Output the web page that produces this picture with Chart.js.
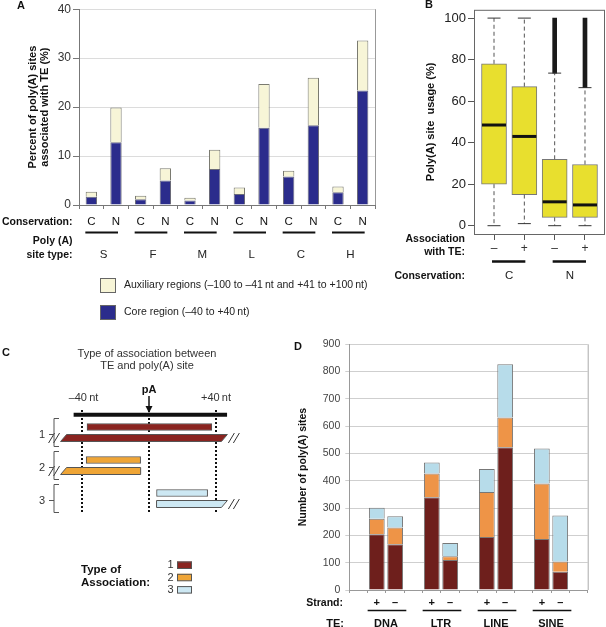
<!DOCTYPE html>
<html>
<head>
<meta charset="utf-8">
<script src="https://cdn.jsdelivr.net/npm/chart.js@4"></script>
<style>
  body { margin: 0; background: #fff; }
  #wrap { position: relative; width: 606px; height: 627px; overflow: hidden; }
  canvas { position: absolute; }
</style>
</head>
<body>
<div id="wrap">
  <canvas id="chartA" width="380" height="320" style="left:0;top:0"></canvas>
  <canvas id="chartB" width="226" height="300" style="left:380px;top:0"></canvas>
  <canvas id="chartC" width="290" height="307" style="left:0;top:320px"></canvas>
  <canvas id="chartD" width="316" height="307" style="left:290px;top:320px"></canvas>
</div>
<script>
const FONT = '"Liberation Sans", Arial, Helvetica, sans-serif';

// --- panel A: % of poly(A) sites associated with TE
const siteTypes = ['S', 'F', 'M', 'L', 'C', 'H'];
const conservation = ['C', 'N'];
const coreRegion = [1.7, 12.8, 1.2, 5.0, 0.9, 7.35, 2.25, 15.8, 5.8, 16.3, 2.6, 23.4];
const auxRegion = [1.0, 7.1, 0.7, 2.5, 0.6, 3.95, 1.35, 8.9, 1.2, 9.7, 1.2, 10.2];
const aTicks = [0, 10, 20, 30, 40];

// --- panel B: poly(A) site usage boxplots
const teAssoc = ['–', '+', '–', '+'];
const consGroups = ['C', 'N'];
const boxLow = [0, 1, 0, 0];
const boxQ1 = [20, 15, 4, 4];
const boxMedian = [48.5, 43, 11.5, 10];
const boxQ3 = [78, 67, 32, 29.5];
const boxHigh = [100, 100, 73.5, 66.5];
const outlierMax = [null, null, 100, 100];
const bTicks = [0, 20, 40, 60, 80, 100];

// --- panel C: association type diagram (positions in nt)
const assocTypes = ['1', '2', '3'];
const cRowType = [1, 1, 0, 2, 2, 0, 3, 3];
const cFrom = [-37, -51, null, -37.5, -51, null, 4.5, 4.5];
const cTo = [37.5, 45, null, -5, -5, null, 35, 45];
const cBreakLeft = [false, true, false, false, true, false, false, false];
const cBreakRight = [false, true, false, false, false, false, false, true];
const cMarks = [-40, 0, 40];

// --- panel D: number of poly(A) sites per TE class and strand
const teClasses = ['DNA', 'LTR', 'LINE', 'SINE'];
const strands = ['+', '–'];
const assocType1 = [204, 168, 340, 110, 194, 523, 187, 67];
const assocType2 = [57, 61, 87, 14, 165, 109, 203, 37];
const assocType3 = [40, 41, 40, 48, 84, 195, 128, 169];

const typeColors = ['#8A2420', '#EFA536', '#CDE8F3'];
const dColors = ['#6E1F1C', '#EE9447', '#B7DCEA'];

function drawText(ctx, str, x, y, font, align, color, rot) {
    ctx.save();
    ctx.font = font;
    ctx.fillStyle = color || '#111';
    ctx.textAlign = align || 'center';
    ctx.textBaseline = 'middle';
    ctx.translate(x, y);
    if (rot) ctx.rotate(rot);
    ctx.fillText(str, 0, 0);
    ctx.restore();
}

function drawLine(ctx, x1, y1, x2, y2, color, width, dash) {
    ctx.save();
    ctx.strokeStyle = color;
    ctx.lineWidth = width;
    ctx.setLineDash(dash || []);
    ctx.beginPath();
    ctx.moveTo(x1, y1);
    ctx.lineTo(x2, y2);
    ctx.stroke();
    ctx.restore();
}

const noPlugins = { legend: { display: false }, tooltip: { enabled: false } };

// ================= A =================
const panelA = {
    id: 'panelA',
    afterDraw(chart) {
        const { ctx, chartArea: ca, scales: { x } } = chart;
        drawLine(ctx, ca.right + 0.5, ca.top, ca.right + 0.5, ca.bottom, '#999', 1);
        drawText(ctx, 'A', 21, 6, 'bold 11px ' + FONT);
        const mid = (ca.top + ca.bottom) / 2;
        drawText(ctx, 'Percent of poly(A) sites', 33, mid, 'bold 11px ' + FONT, 'center', '#111', -Math.PI / 2);
        drawText(ctx, 'associated with TE (%)', 45, mid, 'bold 11px ' + FONT, 'center', '#111', -Math.PI / 2);
        drawText(ctx, 'Conservation:', 72.5, 222, 'bold 10.5px ' + FONT, 'right');
        drawText(ctx, 'Poly (A)', 72.5, 241.5, 'bold 10.5px ' + FONT, 'right');
        drawText(ctx, 'site type:', 72.5, 255, 'bold 10.5px ' + FONT, 'right');
        siteTypes.forEach((t, g) => {
            const xc = x.getPixelForValue(2 * g);
            const xn = x.getPixelForValue(2 * g + 1);
            drawLine(ctx, xc - 6, 232.5, xn + 2, 232.5, '#111', 2);
            drawText(ctx, t, (xc + xn) / 2, 255, '11.5px ' + FONT, 'center', '#222');
        });
        // legend
        const ds = chart.data.datasets;
        [[ds[1], 278], [ds[0], 305]].forEach(([d, y]) => {
            ctx.fillStyle = d.backgroundColor;
            ctx.fillRect(100, y, 16, 15);
            ctx.strokeStyle = '#666';
            ctx.lineWidth = 1;
            ctx.strokeRect(100.5, y + 0.5, 15, 14);
            drawText(ctx, d.label, 124, y + 7.5, '10.5px ' + FONT, 'left', '#222');
        });
    }
};

new Chart(document.getElementById('chartA'), {
    type: 'bar',
    data: {
        labels: siteTypes.flatMap(() => conservation),
        datasets: [
            { label: 'Core region (–40 to +40\u2009nt)', data: coreRegion, backgroundColor: '#2B2C8C', borderColor: '#6a6a78', borderWidth: 1 },
            { label: 'Auxiliary regions (–100 to –41\u2009nt and +41 to +100\u2009nt)', data: auxRegion, backgroundColor: '#F7F5D7', borderColor: '#7a7a70', borderWidth: 1 }
        ]
    },
    options: {
        responsive: false,
        animation: false,
        layout: { padding: { left: 0, right: 5, top: 4, bottom: 0 } },
        plugins: noPlugins,
        datasets: { bar: { barPercentage: 0.46, categoryPercentage: 1 } },
        scales: {
            x: {
                stacked: true,
                afterFit: s => { s.height = 115; },
                grid: { drawOnChartArea: false, offset: true, tickLength: 4, tickColor: '#777' },
                border: { color: '#777' },
                ticks: { autoSkip: false, maxRotation: 0, minRotation: 0, padding: 6, color: '#111', font: { family: FONT, size: 11.5 } }
            },
            y: {
                stacked: true, min: 0, max: 40,
                afterFit: s => { s.width = 79; },
                afterBuildTicks: s => { s.ticks = aTicks.map(v => ({ value: v })); },
                grid: { color: '#dcdcdc', tickLength: 6, tickColor: '#777' },
                border: { color: '#777' },
                ticks: { padding: 2, color: '#333', font: { family: FONT, size: 12 } }
            }
        }
    },
    plugins: [panelA]
});

// ================= B =================
const panelB = {
    id: 'panelB',
    afterDatasetsDraw(chart) {
        const { ctx, scales: { x, y } } = chart;
        boxQ1.forEach((q1, i) => {
            const cx = x.getPixelForValue(i + 1);
            drawLine(ctx, cx, y.getPixelForValue(boxQ3[i]), cx, y.getPixelForValue(boxHigh[i]), '#555', 1, [4, 3]);
            drawLine(ctx, cx, y.getPixelForValue(q1), cx, y.getPixelForValue(boxLow[i]), '#555', 1, [4, 3]);
            drawLine(ctx, cx - 6.5, y.getPixelForValue(boxHigh[i]), cx + 6.5, y.getPixelForValue(boxHigh[i]), '#333', 1);
            drawLine(ctx, cx - 6.5, y.getPixelForValue(boxLow[i]), cx + 6.5, y.getPixelForValue(boxLow[i]), '#333', 1);
            drawLine(ctx, cx - 12, y.getPixelForValue(boxMedian[i]), cx + 12, y.getPixelForValue(boxMedian[i]), '#111', 3);
        });
    },
    afterDraw(chart) {
        const { ctx, chartArea: ca, scales: { x } } = chart;
        ctx.strokeStyle = '#666';
        ctx.lineWidth = 1;
        ctx.strokeRect(ca.left + 0.5, ca.top + 0.5, ca.right - ca.left - 1, ca.bottom - ca.top);
        drawText(ctx, 'B', 49, 5, 'bold 11px ' + FONT);
        drawText(ctx, 'Poly(A) site  usage (%)', 51, (ca.top + ca.bottom) / 2, 'bold 11px ' + FONT, 'center', '#111', -Math.PI / 2);
        drawText(ctx, 'Association', 85, 239, 'bold 10.5px ' + FONT, 'right');
        drawText(ctx, 'with TE:', 85, 252, 'bold 10.5px ' + FONT, 'right');
        drawText(ctx, 'Conservation:', 85, 276, 'bold 10.5px ' + FONT, 'right');
        consGroups.forEach((g, k) => {
            const x1 = x.getPixelForValue(2 * k + 1);
            const x2 = x.getPixelForValue(2 * k + 2);
            drawLine(ctx, x1 - 2, 261.5, x2 + 1, 261.5, '#111', 2.5);
            drawText(ctx, g, (x1 + x2) / 2, 276, '11.5px ' + FONT, 'center', '#222');
        });
    }
};

new Chart(document.getElementById('chartB'), {
    type: 'bar',
    data: {
        datasets: [
            {
                data: boxQ1.map((q, i) => ({ x: i + 1, y: [q, boxQ3[i]] })),
                backgroundColor: '#E8DF2E', borderColor: '#777', borderWidth: 1, borderSkipped: false,
                barThickness: 25, grouped: false
            },
            {
                data: outlierMax.map((m, i) => m === null ? null : ({ x: i + 1, y: [boxHigh[i], m] })).filter(Boolean),
                backgroundColor: '#1a1a1a', borderWidth: 0, barThickness: 4, grouped: false
            }
        ]
    },
    options: {
        responsive: false,
        animation: false,
        layout: { padding: { left: 0, right: 1, top: 8, bottom: 0 } },
        plugins: noPlugins,
        scales: {
            x: {
                type: 'linear', min: 0.34, max: 4.66, offset: false,
                afterFit: s => { s.height = 66; },
                afterBuildTicks: s => { s.ticks = teAssoc.map((_, i) => ({ value: i + 1 })); },
                grid: { drawOnChartArea: false, offset: false, tickLength: 6, tickColor: '#555' },
                border: { display: false },
                ticks: { padding: 1, color: '#333', font: { family: FONT, size: 12 }, callback: (v, i) => teAssoc[i] }
            },
            y: {
                min: -4, max: 104,
                afterFit: s => { s.width = 94; },
                afterBuildTicks: s => { s.ticks = bTicks.map(v => ({ value: v })); },
                grid: { drawOnChartArea: false, tickLength: 6, tickColor: '#555' },
                border: { display: false },
                ticks: { padding: 2, color: '#222', font: { family: FONT, size: 13 } }
            }
        }
    },
    plugins: [panelB]
});

// ================= C =================
const panelC = {
    id: 'panelC',
    beforeDatasetsDraw(chart) {
        const { ctx, scales: { x } } = chart;
        cMarks.forEach(m => {
            const px = x.getPixelForValue(m);
            drawLine(ctx, px, 90, px, 194, '#111', 2, [2, 2]);
        });
    },
    afterDatasetsDraw(chart) {
        const { ctx } = chart;
        const meta = chart.getDatasetMeta(0);
        meta.data.forEach((el, i) => {
            if (!(cBreakLeft[i] || cBreakRight[i])) return;
            const p = el.getProps(['x', 'y', 'base', 'height'], true);
            const l = Math.min(p.x, p.base), r = Math.max(p.x, p.base);
            const t = p.y - p.height / 2, b = p.y + p.height / 2;
            const sl = cBreakLeft[i] ? 3 : 0, sr = cBreakRight[i] ? 3 : 0;
            ctx.save();
            ctx.beginPath();
            ctx.moveTo(l + sl, t);
            ctx.lineTo(r + sr, t);
            ctx.lineTo(r - sr, b);
            ctx.lineTo(l - sl, b);
            ctx.closePath();
            ctx.fillStyle = typeColors[cRowType[i] - 1];
            ctx.fill();
            ctx.strokeStyle = '#555';
            ctx.lineWidth = 1;
            ctx.stroke();
            ctx.restore();
            for (let k = 0; k < 2; k++) {
                if (cBreakLeft[i]) {
                    const cx = l - 7 - k * 5;
                    drawLine(ctx, cx - 3, p.y + 5, cx + 3, p.y - 5, '#333', 1);
                }
                if (cBreakRight[i]) {
                    const cx = r + 7 + k * 5;
                    drawLine(ctx, cx - 3, p.y + 5, cx + 3, p.y - 5, '#333', 1);
                }
            }
        });
    },
    afterDraw(chart) {
        const { ctx, scales: { x, y } } = chart;
        drawText(ctx, 'C', 2, 33, 'bold 11px ' + FONT, 'left');
        drawText(ctx, 'Type of association between', 147, 33.5, '11px ' + FONT, 'center', '#333');
        drawText(ctx, 'TE and poly(A) site', 147, 46, '11px ' + FONT, 'center', '#333');
        const x0 = x.getPixelForValue(0);
        drawText(ctx, 'pA', x0, 70, 'bold 11px ' + FONT);
        drawLine(ctx, x0, 76, x0, 87, '#111', 1.5);
        ctx.fillStyle = '#111';
        ctx.beginPath();
        ctx.moveTo(x0 - 3.5, 86);
        ctx.lineTo(x0 + 3.5, 86);
        ctx.lineTo(x0, 93);
        ctx.closePath();
        ctx.fill();
        drawText(ctx, '–40\u2009nt', x.getPixelForValue(-40) + 1.5, 77.5, '11px ' + FONT, 'center', '#333');
        drawText(ctx, '+40\u2009nt', x.getPixelForValue(40), 77.5, '11px ' + FONT, 'center', '#333');
        drawLine(ctx, x.getPixelForValue(-45), 94.7, x.getPixelForValue(46.6), 94.7, '#111', 4);
        // brackets
        assocTypes.forEach((t, k) => {
            const rows = cRowType.map((r, i) => r === k + 1 ? i : -1).filter(i => i >= 0);
            const mid = (y.getPixelForValue(rows[0]) + y.getPixelForValue(rows[1])) / 2;
            const top = mid - 14, bot = mid + 14;
            ctx.save();
            ctx.strokeStyle = '#555';
            ctx.lineWidth = 1;
            ctx.beginPath();
            ctx.moveTo(59, top); ctx.lineTo(54, top); ctx.lineTo(54, bot); ctx.lineTo(59, bot);
            ctx.moveTo(54, mid + 2); ctx.lineTo(49, mid + 2);
            ctx.stroke();
            ctx.restore();
            drawText(ctx, t, 42, mid + 2, '11px ' + FONT, 'center', '#333');
        });
        // legend
        drawText(ctx, 'Type of', 81, 250, 'bold 11.5px ' + FONT, 'left');
        drawText(ctx, 'Association:', 81, 262.5, 'bold 11.5px ' + FONT, 'left');
        assocTypes.forEach((t, k) => {
            const yy = 241.5 + k * 12.3;
            ctx.fillStyle = typeColors[k];
            ctx.fillRect(177, yy, 15, 7);
            ctx.strokeStyle = '#555';
            ctx.lineWidth = 1;
            ctx.strokeRect(177.5, yy + 0.5, 14, 6.5);
            drawText(ctx, t, 173.5, yy + 3.8, '11px ' + FONT, 'right', '#333');
        });
    }
};

const isBroken = i => cBreakLeft[i] || cBreakRight[i];
new Chart(document.getElementById('chartC'), {
    type: 'bar',
    data: {
        labels: cRowType.map(String),
        datasets: [{
            data: cFrom.map((f, i) => f === null ? null : [f, cTo[i]]),
            backgroundColor: c => isBroken(c.dataIndex) ? 'rgba(0,0,0,0)' : typeColors[cRowType[c.dataIndex] - 1],
            borderColor: c => isBroken(c.dataIndex) ? 'rgba(0,0,0,0)' : '#555',
            borderWidth: 1, borderSkipped: false, barThickness: 7
        }]
    },
    options: {
        indexAxis: 'y',
        responsive: false,
        animation: false,
        layout: { padding: { left: 0, right: 0, top: 101.5, bottom: 117.5 } },
        plugins: noPlugins,
        scales: {
            x: { type: 'linear', display: false, min: -40 - 82 / 1.675, max: 40 + 74 / 1.675 },
            y: { display: false }
        }
    },
    plugins: [panelC]
});

// ================= D =================
function slotted(arr) {
    const out = [null];
    teClasses.forEach((_, g) => out.push(arr[2 * g], arr[2 * g + 1], null));
    return out;
}
const dLabels = [''];
teClasses.forEach(() => dLabels.push(...strands, ''));

const panelD = {
    id: 'panelD',
    afterDraw(chart) {
        const { ctx, chartArea: ca, scales: { x } } = chart;
        drawLine(ctx, ca.right + 0.5, ca.top, ca.right + 0.5, ca.bottom, '#aaa', 1);
        drawText(ctx, 'D', 8, 27, 'bold 11px ' + FONT);
        drawText(ctx, 'Number of poly(A) sites', 13.5, (ca.top + ca.bottom) / 2, 'bold 10.5px ' + FONT, 'center', '#111', -Math.PI / 2);
        drawText(ctx, 'Strand:', 53, 283, 'bold 10.5px ' + FONT, 'right');
        drawText(ctx, 'TE:', 54, 303.5, 'bold 11px ' + FONT, 'right');
        const slot = x.getPixelForValue(1) - x.getPixelForValue(0);
        teClasses.forEach((t, g) => {
            const xp = x.getPixelForValue(3 * g + 1);
            const xm = x.getPixelForValue(3 * g + 2);
            drawLine(ctx, xp - slot / 2, 290.5, xm + slot / 2 + 2, 290.5, '#111', 1.5);
            drawText(ctx, t, (xp + xm) / 2, 303.5, 'bold 11px ' + FONT);
        });
    }
};

new Chart(document.getElementById('chartD'), {
    type: 'bar',
    data: {
        labels: dLabels,
        datasets: [
            { label: '1', data: slotted(assocType1), backgroundColor: dColors[0], borderColor: '#777', borderWidth: 1 },
            { label: '2', data: slotted(assocType2), backgroundColor: dColors[1], borderColor: '#777', borderWidth: 1 },
            { label: '3', data: slotted(assocType3), backgroundColor: dColors[2], borderColor: '#777', borderWidth: 1 }
        ]
    },
    options: {
        responsive: false,
        animation: false,
        layout: { padding: { left: 0, right: 18.3, top: 24.3, bottom: 0 } },
        plugins: noPlugins,
        datasets: { bar: { barPercentage: 0.86, categoryPercentage: 1 } },
        scales: {
            x: {
                stacked: true,
                afterFit: s => { s.height = 37; },
                grid: { drawOnChartArea: false, offset: true, tickLength: 3, tickColor: '#999' },
                border: { color: '#999' },
                ticks: { autoSkip: false, maxRotation: 0, minRotation: 0, padding: 3.5, color: '#111', font: { family: FONT, size: 11, weight: 'bold' } }
            },
            y: {
                stacked: true, min: 0, max: 900,
                afterFit: s => { s.width = 59.3; },
                ticks: { stepSize: 100, padding: 5, color: '#444', font: { family: FONT, size: 10.5 } },
                grid: { color: '#cfcfcf', tickLength: 4, tickColor: '#cfcfcf' },
                border: { color: '#999' }
            }
        }
    },
    plugins: [panelD]
});
</script>
</body>
</html>
